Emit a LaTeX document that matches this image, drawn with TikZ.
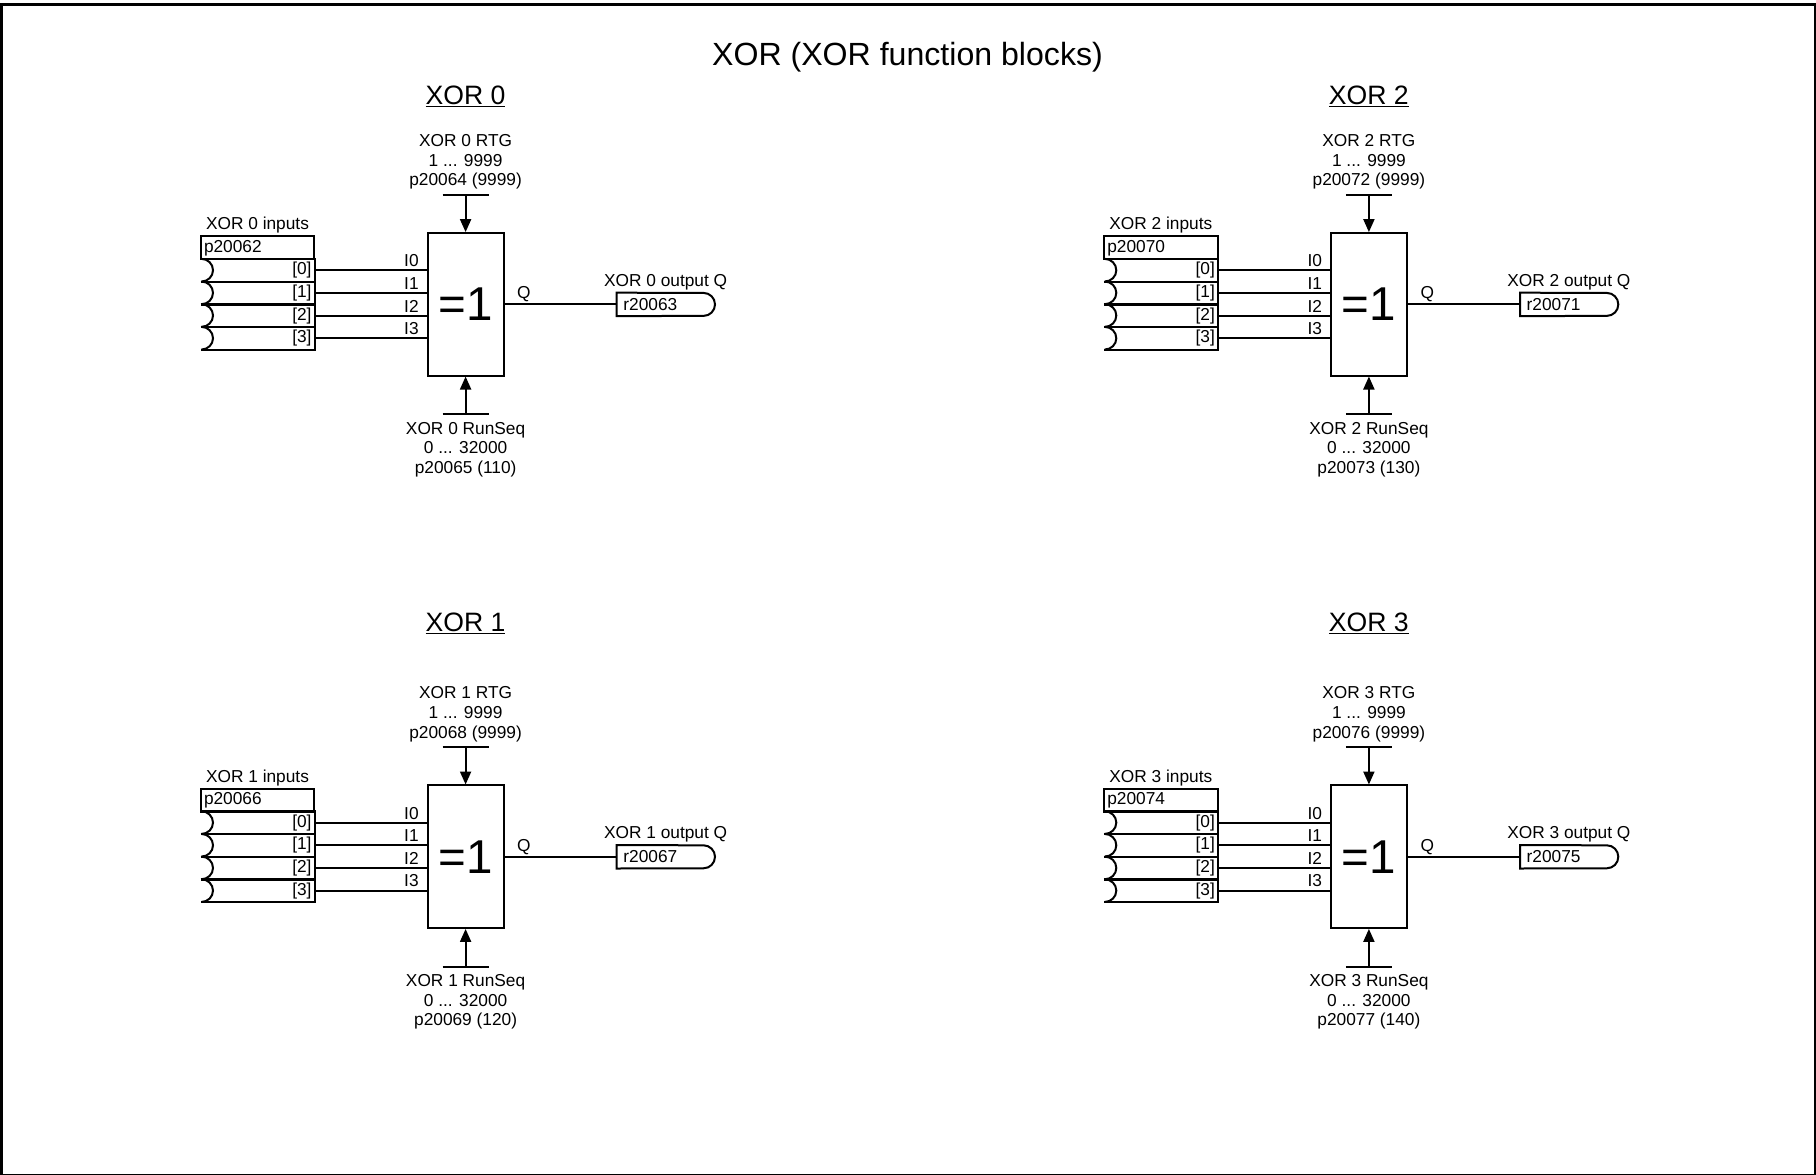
\documentclass[tikz,border=0pt]{standalone}
\usepackage{fontspec}
\setmainfont{Liberation Sans}
\usetikzlibrary{arrows.meta}
\tikzset{
  wire/.style={line width=2pt},
  box/.style={draw,line width=2pt},
  txt/.style={font=\fontsize{17.3}{19.7}\selectfont,inner sep=0pt},
  gatebox/.style={box,minimum width=76pt,minimum height=143.4pt,inner sep=0pt,font=\fontsize{47.5}{50}\selectfont},
  hdrbox/.style={box,txt,minimum width=113.6pt,minimum height=22.7pt,text width=107pt,inner xsep=3.3pt,align=left},
  rowbox/.style={txt,minimum width=113.6pt,minimum height=22.67pt,text width=108pt,align=right,inner xsep=2.8pt},
  outbox/.style={txt,minimum width=87pt,minimum height=23pt,text width=78pt,inner xsep=6.5pt,align=left},
  arr/.style={wire,-{Triangle[length=13pt,width=11pt]},shorten >=-0.5pt},
  heading/.style={font=\fontsize{26.6}{30}\selectfont,inner sep=0pt},
  frameline/.style={line width=3.2pt}
}
\begin{document}
\begin{tikzpicture}[x=1pt,y=-1pt]
\useasboundingbox (0,0) rectangle (1816,1175);
\draw[frameline] (1.6,4.6) rectangle (1815.6,1175.6);
\node[font=\fontsize{32.1}{36}\selectfont,inner sep=0pt] (title) at (907.5,57.5) {XOR (XOR function blocks)};
\foreach \n/\dx/\dy/\hy/\pin/\rtg/\seq/\rout/\dflt in {
  0/0/0/96.5/20062/20064/20065/20063/110,
  1/0/552.4/623.5/20066/20068/20069/20067/120,
  2/903.3/0/96.5/20070/20072/20073/20071/130,
  3/903.3/552.4/623.5/20074/20076/20077/20075/140}{
  \node[heading] (head\n) at (465.5+\dx,\hy) {\underline{XOR \n}};
  \begin{scope}[shift={(\dx,\dy)}]
    \node[gatebox] (gate\n) at (465.6,304.3) {=1};
    % parameter inputs
    \coordinate (topbar\n) at (465.6,194.6);
    \coordinate (botbar\n) at (465.6,414.2);
    \draw[wire] ([xshift=-23pt]topbar\n) -- ([xshift=23pt]topbar\n);
    \draw[wire] ([xshift=-23pt]botbar\n) -- ([xshift=23pt]botbar\n);
    \draw[arr] (topbar\n) -- (gate\n.north);
    \draw[arr] (botbar\n) -- (gate\n.south);
    \node[txt,align=center] (rtg\n) at (465.6,162) {XOR \n{} RTG\\1 ... 9999\\p\rtg{} (9999)};
    \node[txt,align=center] (seq\n) at (465.6,449.5) {XOR \n{} RunSeq\\0 ... 32000\\p\seq{} (\dflt)};
    % input table
    \node[txt] (inlab\n) at (257.5,225.3) {XOR \n{} inputs};
    \node[hdrbox] (hdr\n) at (257.5,247.8) {p\pin};
    \foreach \r/\ry/\iy in {0/270.4/261,1/293.07/283.4,2/315.73/306,3/338.4/328.6}{
      \node[rowbox] (row\n-\r) at (257.5,\ry) {\raisebox{-1pt}{[\r]}};
      \draw[box] (row\n-\r.north west) -- (row\n-\r.north east) -- (row\n-\r.south east) -- (row\n-\r.south west);
      \draw[wire] ([xshift=1pt]row\n-\r.north west) arc[start angle=90,end angle=-90,x radius=11.5pt,y radius=11.33pt];
      \draw[wire] (row\n-\r.east) -- (row\n-\r.east -| gate\n.west);
      \node[txt,anchor=west] (ilab\n-\r) at (404,\iy) {I\r};
    }
    % output
    \node[outbox,anchor=west] (out\n) at (616.7,304.4) {r\rout};
    \draw[box] (out\n.north west) -- (703.5,292.9) arc[start angle=90,end angle=-90,radius=11.5pt] -- (out\n.south west) -- cycle;
    \draw[wire] (gate\n.east |- out\n.west) -- (out\n.west);
    \node[txt,anchor=west] (qlab\n) at (517,294.5) {Q};
    \node[txt] (outlab\n) at (665.6,282.3) {XOR \n{} output Q};
  \end{scope}
}
\end{tikzpicture}
\end{document}
